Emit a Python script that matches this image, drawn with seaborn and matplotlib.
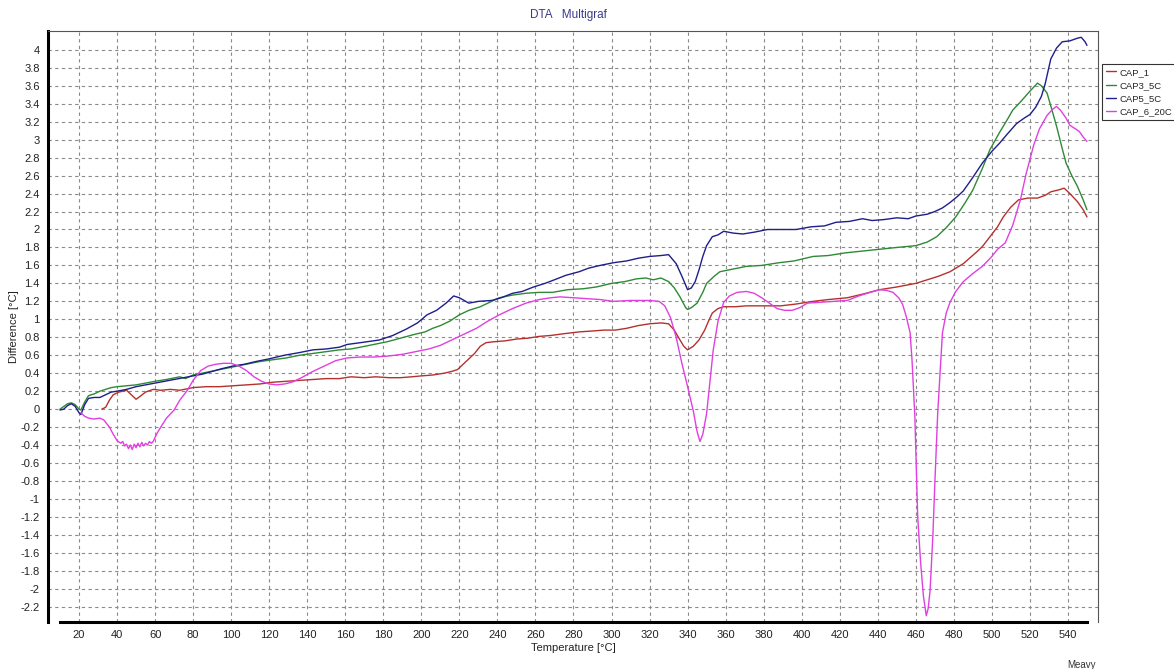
import numpy as np
import pandas as pd
import matplotlib
matplotlib.use("Agg")
import matplotlib.pyplot as plt
from matplotlib.ticker import MultipleLocator, FormatStrFormatter
import seaborn as sns

# DTA curves (temperature in C, difference in C)
cap1_t = [32, 34, 36, 38, 41, 45, 48, 50, 52, 55, 59, 63, 68, 73, 80, 87, 94, 101, 108, 115,
          122, 129, 136, 143, 150, 157, 163, 170, 176, 183, 189, 195, 200, 206, 212, 216, 219,
          222, 225, 228, 231, 234, 238, 244, 250, 256, 262, 268, 275, 283, 290, 296, 302, 308,
          314, 320, 326, 330, 333, 336, 338, 340, 343, 346, 349, 351, 353, 356, 359, 365, 371,
          380, 389, 397, 406, 414, 424, 432, 441, 450, 460, 466, 472, 478, 485, 492, 495, 499,
          503, 506, 510, 514, 519, 524, 528, 531, 535, 538, 541, 545, 548, 550]
cap1_d = [0.00, 0.02, 0.10, 0.16, 0.19, 0.21, 0.15, 0.11, 0.14, 0.19, 0.22, 0.21, 0.22, 0.21,
          0.24, 0.25, 0.25, 0.26, 0.27, 0.28, 0.30, 0.31, 0.32, 0.33, 0.34, 0.34, 0.36, 0.35,
          0.36, 0.35, 0.35, 0.36, 0.37, 0.38, 0.40, 0.42, 0.44, 0.50, 0.56, 0.62, 0.70, 0.74,
          0.75, 0.76, 0.78, 0.79, 0.81, 0.82, 0.84, 0.86, 0.87, 0.88, 0.88, 0.90, 0.93, 0.95,
          0.96, 0.95, 0.88, 0.77, 0.70, 0.66, 0.70, 0.77, 0.88, 0.98, 1.07, 1.12, 1.14, 1.14,
          1.15, 1.15, 1.15, 1.17, 1.20, 1.22, 1.24, 1.28, 1.33, 1.36, 1.40, 1.44, 1.48, 1.53,
          1.62, 1.75, 1.81, 1.92, 2.03, 2.14, 2.25, 2.33, 2.35, 2.35, 2.38, 2.42, 2.44, 2.46,
          2.40, 2.31, 2.22, 2.14]

cap3_t = [10, 12, 14, 16, 18, 20, 21, 23, 25, 28, 31, 34, 37, 40, 45, 50, 55, 60, 66, 73, 76,
          80, 87, 94, 101, 108, 115, 122, 129, 136, 143, 150, 157, 163, 168, 175, 182, 189, 196,
          202, 206, 210, 215, 220, 225, 231, 236, 241, 248, 255, 262, 269, 277, 285, 292, 300,
          307, 313, 318, 322, 326, 330, 333, 336, 339, 340, 342, 345, 348, 350, 354, 357, 364,
          371, 379, 388, 396, 406, 414, 423, 432, 441, 450, 460, 466, 471, 476, 481, 486, 490,
          495, 499, 504, 508, 511, 515, 520, 524, 526, 529, 532, 534, 537, 539, 542, 545, 548, 550]
cap3_d = [0.00, 0.03, 0.06, 0.07, 0.05, 0.00, -0.01, 0.08, 0.15, 0.17, 0.20, 0.22, 0.24, 0.25,
          0.26, 0.27, 0.29, 0.31, 0.33, 0.36, 0.34, 0.38, 0.41, 0.44, 0.47, 0.50, 0.53, 0.55,
          0.57, 0.60, 0.62, 0.64, 0.66, 0.67, 0.69, 0.72, 0.75, 0.79, 0.83, 0.86, 0.90, 0.93,
          0.98, 1.05, 1.10, 1.14, 1.19, 1.24, 1.27, 1.29, 1.30, 1.30, 1.33, 1.34, 1.36, 1.40,
          1.42, 1.45, 1.46, 1.44, 1.46, 1.42, 1.35, 1.25, 1.13, 1.11, 1.13, 1.18, 1.30, 1.40,
          1.48, 1.53, 1.56, 1.59, 1.60, 1.63, 1.65, 1.70, 1.71, 1.74, 1.76, 1.78, 1.80, 1.82,
          1.86, 1.92, 2.02, 2.14, 2.30, 2.44, 2.68, 2.89, 3.08, 3.22, 3.33, 3.42, 3.54, 3.63,
          3.60, 3.52, 3.30, 3.15, 2.90, 2.74, 2.60, 2.48, 2.33, 2.22]

cap5_t = [10, 12, 14, 16, 18, 20, 21, 23, 25, 28, 31, 34, 37, 40, 45, 50, 55, 60, 65, 70, 75,
          80, 85, 90, 95, 101, 107, 113, 120, 128, 136, 143, 150, 157, 161, 168, 178, 185, 192,
          198, 203, 208, 213, 217, 220, 225, 230, 237, 242, 248, 253, 259, 265, 270, 276, 283,
          288, 294, 301, 308, 314, 320, 326, 330, 334, 337, 340, 342, 344, 346, 348, 350, 353,
          356, 359, 364, 369, 375, 382, 390, 397, 405, 412, 418, 425, 432, 437, 443, 450, 456,
          460, 466, 470, 474, 478, 482, 485, 490, 495, 500, 504, 508, 513, 517, 520, 523, 526,
          528, 531, 534, 537, 541, 545, 547, 549, 550]
cap5_d = [-0.01, 0.00, 0.04, 0.06, 0.03, -0.04, -0.06, 0.05, 0.12, 0.13, 0.13, 0.16, 0.19,
          0.20, 0.22, 0.25, 0.27, 0.29, 0.31, 0.33, 0.35, 0.37, 0.39, 0.42, 0.45, 0.48, 0.50,
          0.53, 0.56, 0.60, 0.63, 0.66, 0.67, 0.69, 0.72, 0.74, 0.77, 0.82, 0.89, 0.96, 1.05,
          1.10, 1.18, 1.26, 1.24, 1.18, 1.20, 1.21, 1.24, 1.29, 1.31, 1.36, 1.40, 1.44, 1.49,
          1.53, 1.57, 1.60, 1.63, 1.65, 1.68, 1.70, 1.71, 1.72, 1.62, 1.48, 1.33, 1.35, 1.42,
          1.55, 1.70, 1.82, 1.92, 1.94, 1.98, 1.96, 1.95, 1.97, 2.00, 2.00, 2.00, 2.03, 2.04,
          2.08, 2.09, 2.12, 2.10, 2.11, 2.13, 2.12, 2.15, 2.17, 2.20, 2.24, 2.30, 2.37, 2.43,
          2.58, 2.74, 2.87, 2.96, 3.06, 3.18, 3.24, 3.28, 3.36, 3.48, 3.62, 3.90, 4.02, 4.09,
          4.10, 4.13, 4.14, 4.09, 4.05]

cap6_t = [21, 23, 25, 28, 31, 33, 36, 38, 40, 42, 43, 44, 45, 46, 47, 48, 49, 50, 51, 52, 53,
          54, 55, 56, 57, 58, 59, 61, 63, 66, 70, 73, 77, 80, 84, 88, 92, 96, 100, 104, 108, 112,
          116, 120, 124, 128, 132, 137, 143, 150, 155, 161, 168, 175, 182, 190, 197, 204, 210,
          215, 220, 225, 229, 235, 241, 248, 255, 262, 268, 273, 280, 287, 294, 301, 310, 320,
          325, 328, 331, 334, 337, 340, 343, 345, 346.5, 348, 350, 352, 353.5, 356, 359, 362,
          366, 371, 375, 379, 383, 387, 391, 395, 399, 403, 410, 417, 424, 430, 436, 441, 445,
          448, 451, 453, 455, 457, 458, 459.5, 461, 462.5, 464, 465.5, 466.5, 467.5, 469, 470,
          471.5, 473, 474, 476, 478, 481, 485, 490, 495, 500, 503, 507, 511, 515, 518, 522, 525,
          529, 532, 534, 536, 539, 541, 544, 546, 548, 550]
cap6_d = [-0.04, -0.08, -0.10, -0.11, -0.10, -0.12, -0.20, -0.28, -0.35, -0.38, -0.36, -0.41,
          -0.39, -0.44, -0.40, -0.45, -0.39, -0.43, -0.38, -0.42, -0.37, -0.41, -0.38, -0.40,
          -0.36, -0.38, -0.36, -0.27, -0.20, -0.10, -0.01, 0.10, 0.21, 0.32, 0.43, 0.48, 0.50,
          0.51, 0.51, 0.48, 0.43, 0.36, 0.31, 0.28, 0.27, 0.28, 0.30, 0.35, 0.42, 0.49, 0.54,
          0.57, 0.58, 0.58, 0.59, 0.61, 0.64, 0.67, 0.71, 0.76, 0.81, 0.86, 0.90, 0.98, 1.05,
          1.12, 1.18, 1.22, 1.24, 1.25, 1.24, 1.23, 1.22, 1.20, 1.21, 1.21, 1.20, 1.15, 1.02,
          0.80, 0.51, 0.25, -0.02, -0.25, -0.36, -0.28, -0.05, 0.35, 0.66, 0.98, 1.19, 1.26,
          1.30, 1.31, 1.29, 1.24, 1.18, 1.12, 1.10, 1.10, 1.13, 1.18, 1.19, 1.20, 1.21, 1.26,
          1.30, 1.33, 1.32, 1.30, 1.24, 1.17, 1.03, 0.85, 0.55, -0.08, -1.20, -1.70, -2.08,
          -2.30, -2.22, -2.02, -1.40, -0.83, -0.05, 0.50, 0.85, 1.07, 1.19, 1.31, 1.42, 1.51,
          1.59, 1.70, 1.78, 1.85, 2.05, 2.33, 2.62, 2.94, 3.12, 3.27, 3.34, 3.37, 3.33, 3.24,
          3.16, 3.12, 3.09, 3.03, 2.98]

names = ["CAP_1", "CAP3_5C", "CAP5_5C", "CAP_6_20C"]
colors = ["#b5312e", "#2e8a35", "#1e1e8c", "#e040e0"]

frames = []
for name, t, d in zip(names, [cap1_t, cap3_t, cap5_t, cap6_t], [cap1_d, cap3_d, cap5_d, cap6_d]):
    frames.append(pd.DataFrame({"Temperature": t, "Difference": d, "sample": name}))
df = pd.concat(frames, ignore_index=True)

sns.set_style("white")
plt.rcParams["font.family"] = ["Liberation Sans", "DejaVu Sans"]
plt.rcParams["axes.unicode_minus"] = False

fig = plt.figure(figsize=(11.74, 6.69), dpi=100)
ax = fig.add_axes([48 / 1174, 1 - 622 / 669, 1050 / 1174, 591 / 669])

sns.lineplot(data=df, x="Temperature", y="Difference", hue="sample", hue_order=names,
             palette=colors, estimator=None, sort=False, linewidth=1.0, ax=ax)

ax.set_xlim(3.7, 555.8)
ax.set_ylim(-2.37, 4.21)
ax.xaxis.set_minor_locator(MultipleLocator(5))
ax.yaxis.set_major_formatter(FormatStrFormatter("%g"))
ax.set_xticks(np.arange(20, 541, 20))
ax.set_yticks(np.round(np.arange(-2.2, 4.01, 0.2), 1))
ax.tick_params(axis="both", which="major", labelsize=8, length=3, width=0.8,
               color="#333333", labelcolor="#222222", pad=3)
ax.tick_params(axis="x", which="minor", length=2, width=0.6, color="#333333")

ax.grid(True, which="major", linestyle=(0, (3, 3)), color="#8a8a8a", linewidth=0.8)

for side in ["top", "right"]:
    ax.spines[side].set_color("#555555")
    ax.spines[side].set_linewidth(0.8)
ax.spines["left"].set_color("black")
ax.spines["left"].set_linewidth(2.2)
ax.spines["bottom"].set_color("black")
ax.spines["bottom"].set_linewidth(2.2)
ax.spines["bottom"].set_bounds(10, 550)

ax.set_xlabel("Temperature [°C]", fontsize=8, color="#222222", labelpad=2)
ax.set_ylabel("Difference [°C]", fontsize=8, color="#222222", labelpad=1)

fig.text(0.484, 0.977, "DTA   Multigraf", ha="center", va="center", fontsize=8.5, color="#3a3a8a")
fig.text(0.921, 0.006, "Meavy", ha="center", va="center", fontsize=7, color="#333333")

handles, labels = ax.get_legend_handles_labels()
leg = ax.legend(handles, labels, loc="upper left", bbox_to_anchor=(1102 / 1174, 1 - 64 / 669),
                bbox_transform=fig.transFigure, fontsize=6.8, frameon=True, fancybox=False,
                edgecolor="black", handlelength=1.1, handletextpad=0.35, labelspacing=0.45,
                borderpad=0.4, borderaxespad=0)
leg.get_frame().set_linewidth(0.8)
for line in leg.get_lines():
    line.set_linewidth(1.0)

fig.savefig("out.png", dpi=100)
